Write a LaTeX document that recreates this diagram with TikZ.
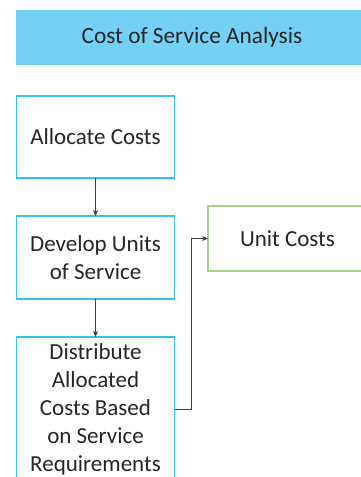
\documentclass[tikz,border=0pt]{standalone}
\usepackage{fontspec}
\setmainfont{Carlito}
\usetikzlibrary{arrows.meta}
\definecolor{titlefill}{HTML}{75D0F5}
\definecolor{boxblue}{HTML}{3DBEF2}
\definecolor{boxgreen}{HTML}{A9D18E}
\definecolor{linegray}{HTML}{404040}
\begin{document}
\begin{tikzpicture}[x=1pt,y=-1pt,
  every node/.style={inner sep=0pt,outer sep=0pt},
  titlebox/.style={fill=titlefill,draw=none,minimum width=352pt,minimum height=55pt,font=\fontsize{23.3}{28}\selectfont,text=black!85},
  bluebox/.style={draw=boxblue,line width=1.1pt,fill=white,minimum width=158pt,align=center,font=\fontsize{23}{28}\selectfont,text=black!85},
  greenbox/.style={draw=boxgreen,line width=1.1pt,fill=white,minimum width=159pt,minimum height=65pt,align=center,font=\fontsize{23}{28}\selectfont,text=black!85},
  conn/.style={draw=linegray,line width=0.7pt,-{Stealth[length=6pt,width=5pt]}}]
\useasboundingbox (0,0) rectangle (361,477);
\node[titlebox] (title) at (192,37.5) {Cost of Service Analysis};
\node[bluebox,minimum height=82pt] (box1) at (95.5,137) {Allocate Costs};
\node[bluebox,minimum height=83pt] (box2) at (95.5,257.5) {Develop Units\\of Service};
\node[bluebox,minimum height=144pt] (box3) at (95.5,409) {Distribute\\Allocated\\Costs Based\\on Service\\Requirements};
\node[greenbox] (box4) at (287.5,238.5) {Unit Costs};
\draw[conn] (box1) -- (box2);
\draw[conn] (box2) -- (box3);
\draw[conn] (box3.east) -- ++(17,0) |- (box4.west);
\end{tikzpicture}
\end{document}
